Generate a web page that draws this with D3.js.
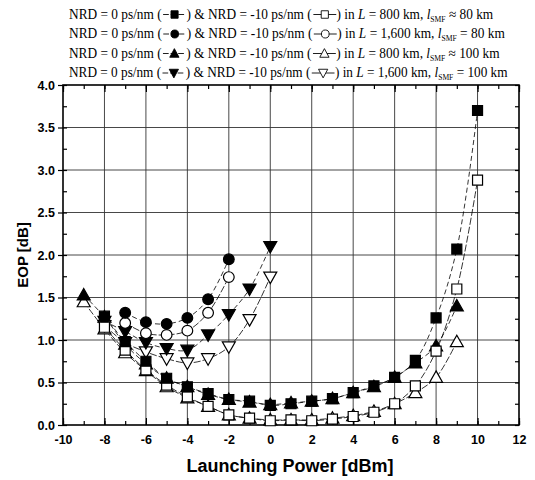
<!DOCTYPE html>
<html>
<head>
  <meta charset="utf-8">
  <script src="https://d3js.org/d3.v7.min.js"></script>
  <style>
    body { margin: 0; background: #fff; }
    svg text { fill: #000; }
  </style>
</head>
<body>
<script>
// launching power (dBm) for each curve
var xSquare = [-8, -7, -6, -5, -4, -3, -2, -1, 0, 1, 2, 3, 4, 5, 6, 7, 8, 9, 10];
var xTri = [-9, -8, -7, -6, -5, -4, -3, -2, -1, 0, 1, 2, 3, 4, 5, 6, 7, 8, 9];
var xCirc = [-7, -6, -5, -4, -3, -2];
var xDown = [-8, -7, -6, -5, -4, -3, -2, -1, 0];

// EOP (dB)
var sqFilled = [1.28, 0.98, 0.75, 0.55, 0.45, 0.37, 0.30, 0.28, 0.23, 0.25, 0.28, 0.31, 0.38, 0.46, 0.56, 0.76, 1.26, 2.07, 3.70];
var sqOpen = [1.15, 0.88, 0.65, 0.47, 0.33, 0.22, 0.12, 0.08, 0.05, 0.06, 0.05, 0.07, 0.10, 0.15, 0.25, 0.46, 0.87, 1.60, 2.88];
var triFilled = [1.53, 1.27, 0.95, 0.72, 0.55, 0.45, 0.36, 0.30, 0.27, 0.24, 0.26, 0.28, 0.31, 0.38, 0.45, 0.56, 0.73, 0.93, 1.40];
var triOpen = [1.45, 1.13, 0.85, 0.64, 0.45, 0.32, 0.22, 0.12, 0.08, 0.06, 0.06, 0.06, 0.08, 0.11, 0.16, 0.25, 0.38, 0.56, 0.98];
var circFilled = [1.32, 1.21, 1.19, 1.26, 1.48, 1.95];
var circOpen = [1.20, 1.08, 1.06, 1.11, 1.32, 1.74];
var downFilled = [1.22, 1.10, 0.97, 0.90, 0.88, 1.06, 1.30, 1.60, 2.10];
var downOpen = [1.17, 0.97, 0.86, 0.78, 0.73, 0.78, 0.92, 1.24, 1.74];

var xTicks = [-10, -8, -6, -4, -2, 0, 2, 4, 6, 8, 10, 12];
var yTicks = [0, 0.5, 1.0, 1.5, 2.0, 2.5, 3.0, 3.5, 4.0];

var legendRows = [
  {sym: "square", L: "800", l: "80", sep: "\u2248"},
  {sym: "circle", L: "1,600", l: "80", sep: "="},
  {sym: "triangle", L: "800", l: "100", sep: "\u2248"},
  {sym: "down", L: "1,600", l: "100", sep: "="}
];

var width = 535, height = 480;
var svg = d3.select("body").append("svg")
  .attr("width", width)
  .attr("height", height);

var x = d3.scaleLinear().domain([-10, 12]).range([63, 519]);
var y = d3.scaleLinear().domain([0, 4]).range([425, 85]);

/* grid */
var grid = svg.append("g");
grid.selectAll(".gx").data(xTicks.slice(1, -1)).enter().append("line")
  .attr("x1", d => x(d)).attr("x2", d => x(d))
  .attr("y1", y(0)).attr("y2", y(4))
  .style("stroke", "#333").style("stroke-width", 0.9);
grid.selectAll(".gy").data(yTicks.slice(1, -1)).enter().append("line")
  .attr("x1", x(-10)).attr("x2", x(12))
  .attr("y1", d => y(d)).attr("y2", d => y(d))
  .style("stroke", "#333").style("stroke-width", 0.9);

/* axes, ticks pointing inward on all four sides */
var tickFont = "bold 12.5px 'Liberation Sans', Arial, sans-serif";
var xMinor = d3.range(-10, 12.01, 1);
var yMinor = d3.range(0, 4.01, 0.25);
var hyphen = f => (d => f(d).replace("\u2212", "-"));

function axisStyle(g) {
  g.select(".domain").remove();
  g.selectAll("line").style("stroke", "#000").style("stroke-width", 1.2);
}

svg.append("g").attr("transform", "translate(0," + y(0) + ")")
  .call(d3.axisTop(x).tickValues(xMinor).tickSize(4).tickFormat(""))
  .call(axisStyle);
svg.append("g").attr("transform", "translate(0," + y(0) + ")")
  .call(d3.axisTop(x).tickValues(xTicks).tickSize(7).tickFormat(""))
  .call(axisStyle);
svg.append("g").attr("transform", "translate(0," + y(0) + ")")
  .call(d3.axisBottom(x).tickValues(xTicks).tickSize(0).tickPadding(10).tickFormat(hyphen(d3.format("d"))))
  .call(axisStyle)
  .selectAll("text").style("font", tickFont);

svg.append("g").attr("transform", "translate(0," + y(4) + ")")
  .call(d3.axisBottom(x).tickValues(xMinor).tickSize(4).tickFormat(""))
  .call(axisStyle);
svg.append("g").attr("transform", "translate(0," + y(4) + ")")
  .call(d3.axisBottom(x).tickValues(xTicks).tickSize(7).tickFormat(""))
  .call(axisStyle);

svg.append("g").attr("transform", "translate(" + x(-10) + ",0)")
  .call(d3.axisRight(y).tickValues(yMinor).tickSize(4).tickFormat(""))
  .call(axisStyle);
svg.append("g").attr("transform", "translate(" + x(-10) + ",0)")
  .call(d3.axisLeft(y).tickValues(yTicks).tickSize(5).tickPadding(3).tickFormat(d3.format(".1f")))
  .call(axisStyle)
  .selectAll("text").style("font", tickFont);

svg.append("g").attr("transform", "translate(" + x(12) + ",0)")
  .call(d3.axisLeft(y).tickValues(yMinor).tickSize(4).tickFormat(""))
  .call(axisStyle);

svg.append("rect")
  .attr("x", x(-10)).attr("y", y(4))
  .attr("width", x(12) - x(-10)).attr("height", y(0) - y(4))
  .style("fill", "none").style("stroke", "#000").style("stroke-width", 1.6);

/* axis titles */
svg.append("text")
  .attr("x", 290).attr("y", 472)
  .attr("text-anchor", "middle")
  .style("font", "bold 18px 'Liberation Sans', Arial, sans-serif")
  .text("Launching Power [dBm]");
svg.append("text")
  .attr("transform", "translate(28," + y(2) + ") rotate(-90)")
  .attr("text-anchor", "middle")
  .style("font", "bold 15px 'Liberation Sans', Arial, sans-serif")
  .text("EOP [dB]");

/* series */
var series = [
  {xs: xTri, ys: triOpen, sym: "triangle", filled: false},
  {xs: xTri, ys: triFilled, sym: "triangle", filled: true},
  {xs: xDown, ys: downOpen, sym: "down", filled: false},
  {xs: xDown, ys: downFilled, sym: "down", filled: true},
  {xs: xCirc, ys: circOpen, sym: "circle", filled: false},
  {xs: xCirc, ys: circFilled, sym: "circle", filled: true},
  {xs: xSquare, ys: sqOpen, sym: "square", filled: false},
  {xs: xSquare, ys: sqFilled, sym: "square", filled: true}
];

function symPath(sym) {
  if (sym === "square") return "M-5,-5H5V5H-5Z";
  if (sym === "circle") return d3.symbol(d3.symbolCircle, 90)();
  if (sym === "triangle") return "M0,-6.5L6.5,5L-6.5,5Z";
  return "M0,6.5L6.5,-5L-6.5,-5Z";
}

var line = d3.line()
  .x(d => x(d[0])).y(d => y(d[1]))
  .curve(d3.curveCatmullRom.alpha(0.5));

series.forEach(function (s) {
  var pts = s.xs.map((v, i) => [v, s.ys[i]]);
  svg.append("path")
    .datum(pts)
    .attr("d", line)
    .style("fill", "none")
    .style("stroke", "#000")
    .style("stroke-width", 0.8)
    .style("stroke-dasharray", s.filled ? "5,3" : "7,2");
});

series.forEach(function (s) {
  var pts = s.xs.map((v, i) => [v, s.ys[i]]);
  svg.selectAll(null).data(pts).enter().append("path")
    .attr("transform", d => "translate(" + x(d[0]) + "," + y(d[1]) + ")")
    .attr("d", symPath(s.sym))
    .style("fill", s.filled ? "#000" : "#fff")
    .style("stroke", "#000")
    .style("stroke-width", 1.2);
});

/* legend text, squeezed to the reference width */
var legFont = "14px 'Liberation Serif', 'Times New Roman', serif";
var legLeft = 69, legRight = [494, 505, 500, 508];
legendRows.forEach(function (r, i) {
  var yy = 19 + i * 19.5;
  var row = svg.append("g");
  var t = row.append("text").attr("x", 0).attr("y", yy).style("font", legFont);
  t.append("tspan").text("NRD = 0 ps/nm (");
  var t1 = t.node().getBBox().width;
  t.append("tspan").attr("dx", 26).text(") & NRD = -10 ps/nm (");
  var t2 = t.node().getBBox().width;
  t.append("tspan").attr("dx", 26).text(") in ");
  t.append("tspan").style("font-style", "italic").text("L");
  t.append("tspan").text(" = " + r.L + " km, ");
  t.append("tspan").style("font-style", "italic").text("l");
  t.append("tspan").attr("dy", 3).style("font-size", "8px").text("SMF");
  t.append("tspan").attr("dy", -3).text(" " + r.sep + " " + r.l + " km");
  var full = t.node().getBBox().width;

  [[t1, true], [t2, false]].forEach(function (p) {
    var x0 = p[0] + 1, cx = x0 + 12;
    row.append("line")
      .attr("x1", x0).attr("x2", x0 + 24)
      .attr("y1", yy - 4.5).attr("y2", yy - 4.5)
      .style("stroke", "#000").style("stroke-width", 0.9)
      .style("stroke-dasharray", p[1] ? "6,2" : null);
    row.append("path")
      .attr("transform", "translate(" + cx + "," + (yy - 4.5) + ") scale(0.75)")
      .attr("d", symPath(r.sym))
      .style("fill", p[1] ? "#000" : "#fff")
      .style("stroke", "#000").style("stroke-width", 1.2);
  });
  var k = (legRight[i] - legLeft) / full;
  row.attr("transform", "translate(" + legLeft + ",0) scale(" + k + ",1)");
});
</script>
</body>
</html>
